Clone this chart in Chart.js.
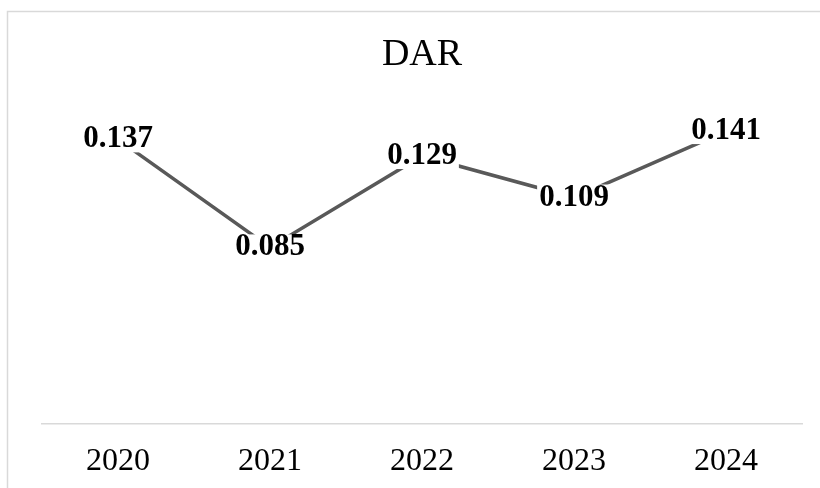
<!DOCTYPE html>
<html>
<head>
<meta charset="utf-8">
<script src="https://cdn.jsdelivr.net/npm/chart.js@4/dist/chart.umd.min.js"></script>
<style>
  html, body { margin: 0; padding: 0; background: #ffffff; }
  #wrap { width: 820px; height: 488px; position: relative; }
</style>
</head>
<body>
<div id="wrap"><canvas id="c" width="820" height="488"></canvas></div>
<script>
// Debt-to-asset ratio by year
const years = ['2020', '2021', '2022', '2023', '2024'];
const darValues = [0.137, 0.085, 0.129, 0.109, 0.141];
const chartTitle = 'DAR';

const SERIF = '"Liberation Serif", "Times New Roman", serif';

// Outer frame of the chart object
const framePlugin = {
  id: 'frame',
  beforeDraw(chart) {
    const ctx = chart.ctx;
    ctx.save();
    ctx.fillStyle = '#ffffff';
    ctx.fillRect(0, 0, chart.width, chart.height);
    ctx.strokeStyle = '#d9d9d9';
    ctx.lineWidth = 1.5;
    ctx.strokeRect(7.5, 11.5, chart.width + 40, chart.height + 40);
    ctx.restore();
  }
};

// Bold value labels centred on each point, on a white patch over the line
const valueLabels = {
  id: 'valueLabels',
  afterDatasetsDraw(chart) {
    const ctx = chart.ctx;
    const meta = chart.getDatasetMeta(0);
    ctx.save();
    ctx.font = 'bold 31px ' + SERIF;
    ctx.textAlign = 'center';
    ctx.textBaseline = 'middle';
    meta.data.forEach((pt, i) => {
      const txt = darValues[i].toFixed(3);
      const w = ctx.measureText(txt).width;
      ctx.fillStyle = '#ffffff';
      ctx.fillRect(pt.x - w / 2 - 2, pt.y - 13, w + 4, 26);
      ctx.fillStyle = '#000000';
      ctx.fillText(txt, pt.x, pt.y);
    });
    ctx.restore();
  }
};

new Chart(document.getElementById('c'), {
  type: 'line',
  data: {
    labels: years,
    datasets: [{
      data: darValues,
      borderColor: '#595959',
      borderWidth: 3.5,
      pointRadius: 0,
      pointHoverRadius: 0,
      tension: 0,
      fill: false
    }]
  },
  options: {
    responsive: false,
    animation: false,
    events: [],
    layout: { padding: { top: 12, left: 42, right: 18, bottom: 0 } },
    plugins: {
      legend: { display: false },
      tooltip: { enabled: false },
      title: {
        display: true,
        text: chartTitle,
        color: '#000000',
        font: { family: SERIF, size: 38, weight: 'normal' },
        padding: { top: 20, bottom: 14 }
      }
    },
    scales: {
      x: {
        offset: true,
        afterFit(scale) { scale.height = 64; },
        grid: { display: false, drawTicks: false },
        border: { display: true, color: '#d9d9d9', width: 1.5 },
        ticks: {
          color: '#000000',
          padding: 19,
          font: { family: SERIF, size: 32, lineHeight: 1.19 }
        }
      },
      y: {
        display: false,
        min: 0,
        max: 0.16
      }
    }
  },
  plugins: [framePlugin, valueLabels]
});
</script>
</body>
</html>
